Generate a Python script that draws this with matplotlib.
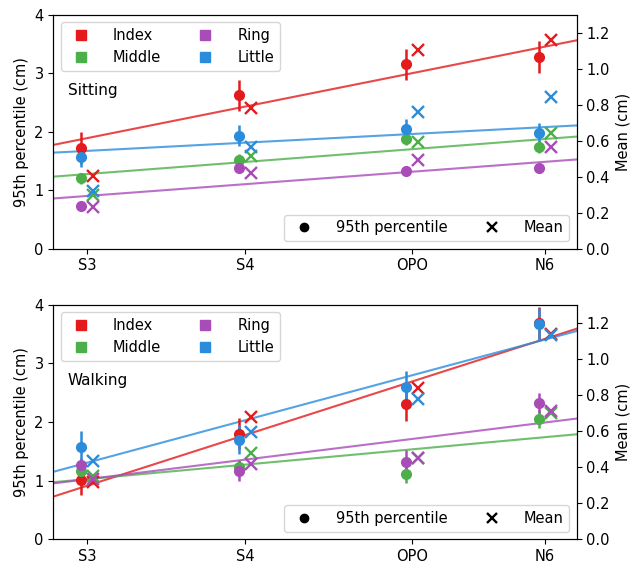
import numpy as np
import matplotlib
matplotlib.use("Agg")
from matplotlib import pyplot as plt
from matplotlib.lines import Line2D

plt.rcParams['font.size'] = 10.5

labels = ['S3', 'S4', 'OPO', 'N6']
xpos = np.array([0.0, 1.034, 2.126, 3.0])
fingers = ['Index', 'Middle', 'Ring', 'Little']
colors = ['#e41a1c', '#4daf4a', '#a84cb8', '#2b8cdb']

# sitting: 95th percentile (left axis) and mean (right axis)
sit_p95 = {
    'Index': [1.72, 2.62, 3.15, 3.28],
    'Middle': [1.20, 1.52, 1.87, 1.74],
    'Ring': [0.72, 1.37, 1.33, 1.38],
    'Little': [1.57, 1.93, 2.04, 1.98],
}
sit_err = {
    'Index': [0.27, 0.27, 0.27, 0.27],
    'Middle': [0.10, 0.10, 0.10, 0.10],
    'Ring': [0.06, 0.07, 0.05, 0.05],
    'Little': [0.17, 0.18, 0.17, 0.17],
}
sit_mean = {
    'Index': [0.404, 0.78, 1.104, 1.159],
    'Middle': [0.298, 0.517, 0.594, 0.641],
    'Ring': [0.23, 0.422, 0.494, 0.563],
    'Little': [0.322, 0.567, 0.757, 0.844],
}

# walking
walk_p95 = {
    'Index': [1.01, 1.80, 2.30, 3.68],
    'Middle': [1.17, 1.24, 1.11, 2.05],
    'Ring': [1.26, 1.17, 1.32, 2.33],
    'Little': [1.58, 1.70, 2.59, 3.66],
}
walk_err = {
    'Index': [0.25, 0.26, 0.28, 0.28],
    'Middle': [0.10, 0.10, 0.15, 0.15],
    'Ring': [0.12, 0.18, 0.20, 0.17],
    'Little': [0.27, 0.25, 0.27, 0.28],
}
walk_mean = {
    'Index': [0.317, 0.678, 0.837, 1.135],
    'Middle': [0.348, 0.478, 0.45, 0.70],
    'Ring': [0.333, 0.417, 0.45, 0.709],
    'Little': [0.435, 0.593, 0.778, 1.13],
}

fig = plt.figure(figsize=(6.4, 5.65), dpi=100)
ax_top = fig.add_axes([0.0833, 0.560, 0.8178, 0.414])
ax_bot = fig.add_axes([0.0833, 0.0455, 0.8178, 0.4155])

xlim = (-0.223, 3.208)
xx = np.array(xlim)


def panel(ax, p95, err, mean, title):
    ax2 = ax.twinx()
    for f, c in zip(fingers, colors):
        # linear fit of the 95th percentiles
        k, b = np.polyfit(xpos, p95[f], 1)
        ax.plot(xx, k * xx + b, color=c, lw=1.5, alpha=0.8, zorder=1)
        ax.errorbar(xpos - 0.04, p95[f], yerr=err[f], fmt='o', color=c,
                    ms=7, elinewidth=1.8, zorder=3)
        ax2.plot(xpos + 0.04, mean[f], 'x', color=c, ms=8, mew=1.7)
    ax.set_xlim(xlim)
    ax.set_ylim(0, 4)
    ax.set_yticks([0, 1, 2, 3, 4])
    ax2.set_ylim(0, 1.3)
    ax2.set_yticks(np.arange(0, 1.21, 0.2))
    ax.set_xticks(xpos)
    ax.set_xticklabels(labels)
    ax.set_ylabel('95th percentile (cm)')
    ax2.set_ylabel('Mean (cm)')
    ax.text(0.028, 0.678, title, transform=ax.transAxes, fontsize=11,
            va='center')

    h1 = [Line2D([], [], ls='', marker='s', color=c, ms=7) for c in colors]
    leg1 = ax2.legend(h1, fingers, ncol=2, loc='upper left',
                      handletextpad=1.2)
    ax2.add_artist(leg1)
    h2 = [Line2D([], [], ls='', marker='o', color='k', ms=6),
          Line2D([], [], ls='', marker='x', color='k', ms=7, mew=1.7)]
    ax2.legend(h2, ['95th percentile', 'Mean'], ncol=2, loc='lower right',
               handletextpad=1.2)


panel(ax_top, sit_p95, sit_err, sit_mean, 'Sitting')
panel(ax_bot, walk_p95, walk_err, walk_mean, 'Walking')

fig.savefig('out.png', dpi=100)
